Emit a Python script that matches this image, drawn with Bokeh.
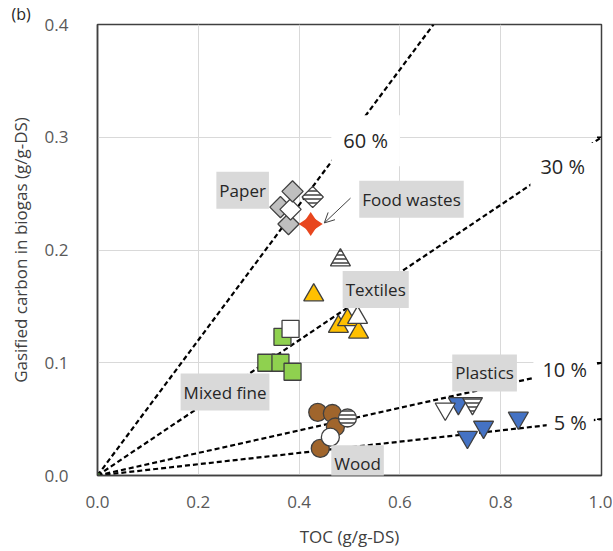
import math
from bokeh.plotting import figure
from bokeh.models import Label, Arrow, OpenHead, Range1d, FixedTicker, NumeralTickFormatter
from bokeh.embed import file_html
from bokeh.resources import INLINE

# ---------------- data ----------------
x_ticks = [0.0, 0.2, 0.4, 0.6, 0.8, 1.0]
y_ticks = [0.0, 0.1, 0.2, 0.3, 0.4]
panel_tag = "(b)"

# Paper (diamonds)
paper_x = [0.363, 0.379, 0.387]
paper_y = [0.238, 0.223, 0.252]
paper_open_x = [0.383]
paper_open_y = [0.236]
paper_hatch_x = [0.427]
paper_hatch_y = [0.247]

# Food wastes (star)
food_x = [0.423]
food_y = [0.223]

# Textiles (triangles)
textile_x = [0.429, 0.478, 0.496, 0.518]
textile_y = [0.160, 0.132, 0.138, 0.127]
textile_open_x = [0.516]
textile_open_y = [0.140]
textile_hatch_x = [0.482]
textile_hatch_y = [0.191]

# Mixed fine (squares)
mixed_x = [0.367, 0.335, 0.363, 0.387]
mixed_y = [0.123, 0.100, 0.100, 0.092]
mixed_open_x = [0.383]
mixed_open_y = [0.130]

# Wood (circles)
wood_x = [0.437, 0.466, 0.472, 0.442]
wood_y = [0.056, 0.055, 0.043, 0.024]
wood_open_x = [0.462]
wood_open_y = [0.034]
wood_hatch_x = [0.496]
wood_hatch_y = [0.051]

# Plastics (inverted triangles)
plastic_x = [0.716, 0.734, 0.766, 0.835]
plastic_y = [0.064, 0.034, 0.043, 0.051]
plastic_open_x = [0.690]
plastic_open_y = [0.059]
plastic_hatch_x = [0.744]
plastic_hatch_y = [0.064]

# Conversion ratio reference lines
ratios = [0.60, 0.30, 0.10, 0.05]
ratio_labels = ["60 %", "30 %", "10 %", "5 %"]
ratio_label_x = [0.532, 0.923, 0.927, 0.938]
ratio_label_y = [0.297, 0.274, 0.094, 0.047]
ratio_label_pad = [12, 10, 9, 7]

# Category labels
cat_names = ["Paper", "Food wastes", "Textiles", "Mixed fine", "Plastics", "Wood"]
cat_x = [0.288, 0.623, 0.552, 0.253, 0.768, 0.516]
cat_y = [0.253, 0.245, 0.165, 0.074, 0.091, 0.0105]

# Arrow for Food wastes label
food_arrow = [0.502, 0.246, 0.450, 0.224]

X_MAX = 1.0
Y_MAX = 0.4

# ---------------- figure ----------------
FONT = "Open Sans"
p = figure(width=612, height=550, output_backend="svg", toolbar_location=None,
           x_range=Range1d(0, X_MAX), y_range=Range1d(0, Y_MAX),
           title=panel_tag,
           min_border_left=97, min_border_right=11, min_border_top=17, min_border_bottom=74)
p.title.text_font = FONT
p.title.text_font_size = "16px"
p.title.text_font_style = "normal"
p.title.text_color = "#262626"
p.title.text_line_height = 1.0
p.title.align = "left"
p.title.offset = -86
p.title.standoff = 0
p.background_fill_color = "white"
p.border_fill_color = "white"
p.outline_line_color = "#404040"
p.outline_line_width = 1.5

for ax in (p.xaxis[0], p.yaxis[0]):
    ax.major_tick_line_color = None
    ax.minor_tick_line_color = None
    ax.axis_line_color = "#404040"
    ax.axis_line_width = 1.5
    ax.major_label_text_font = FONT
    ax.major_label_text_font_size = "17px"
    ax.major_label_text_color = "#595959"
    ax.formatter = NumeralTickFormatter(format="0.0")
    ax.axis_label_text_font = FONT
    ax.axis_label_text_font_size = "17px"
    ax.axis_label_text_font_style = "normal"
    ax.axis_label_text_color = "#404040"

p.xaxis[0].ticker = FixedTicker(ticks=x_ticks)
p.yaxis[0].ticker = FixedTicker(ticks=y_ticks)
p.xaxis[0].major_label_standoff = 14
p.yaxis[0].major_label_standoff = 23
p.xaxis[0].axis_label = "TOC (g/g-DS)"
p.yaxis[0].axis_label = "Gasified carbon in biogas (g/g-DS)"
p.xaxis[0].axis_label_standoff = 14
p.yaxis[0].axis_label_standoff = 10

p.xgrid.ticker = FixedTicker(ticks=x_ticks[1:-1])
p.ygrid.ticker = FixedTicker(ticks=y_ticks[1:-1])
p.grid.grid_line_color = "#d9d9d9"
p.grid.grid_line_width = 1

# reference lines
for r in ratios:
    xe = min(X_MAX, Y_MAX / r)
    p.line([0, xe], [0, r * xe], line_color="black", line_width=2.2, line_dash="5 3")
end_y = [r for r in ratios if r <= Y_MAX]
p.scatter([X_MAX] * len(end_y), end_y, marker="dash", size=9, line_color="black", line_width=1.5)
p.scatter([0], [0], marker="circle", size=7, fill_color="#3f6b2a", line_color="black", line_width=1)

OUT = "#404040"
LW = 1.3

# Mixed fine squares
p.scatter(mixed_x, mixed_y, marker="square", size=17, fill_color="#8fd14f", line_color=OUT, line_width=LW)
p.scatter(mixed_open_x, mixed_open_y, marker="square", size=17, fill_color="white", line_color=OUT, line_width=LW)

# Paper diamonds (rotated squares)
p.scatter(paper_x[:2], paper_y[:2], marker="square", angle=math.pi / 4, size=15,
          fill_color="#bfbfbf", line_color=OUT, line_width=LW)
p.scatter(paper_open_x, paper_open_y, marker="square", angle=math.pi / 4, size=15,
          fill_color="white", line_color=OUT, line_width=LW)
p.scatter(paper_x[2:], paper_y[2:], marker="square", angle=math.pi / 4, size=15,
          fill_color="#bfbfbf", line_color=OUT, line_width=LW)
p.scatter(paper_hatch_x, paper_hatch_y, marker="square", angle=math.pi / 4, size=15,
          fill_color="white", line_color=OUT, line_width=LW,
          hatch_pattern="horizontal_line", hatch_color="#404040", hatch_scale=4, hatch_weight=1.5)

# Food waste star
p.scatter(food_x, food_y, marker="diamond", size=24, fill_color="#e8461e", line_color=None)
p.scatter(food_x, food_y, marker="diamond", angle=math.pi / 2, size=24, fill_color="#e8461e", line_color=None)

# Textiles triangles
p.scatter(textile_hatch_x, textile_hatch_y, marker="triangle", size=20, fill_color="white",
          line_color=OUT, line_width=LW,
          hatch_pattern="horizontal_line", hatch_color="#404040", hatch_scale=4, hatch_weight=1.5)
p.scatter(textile_x, textile_y, marker="triangle", size=20, fill_color="#ffc000", line_color=OUT, line_width=LW)
p.scatter(textile_open_x, textile_open_y, marker="triangle", size=20, fill_color="white", line_color=OUT, line_width=LW)

# Wood circles
p.scatter(wood_x, wood_y, marker="circle", size=18, fill_color="#a0652c", line_color=OUT, line_width=LW)
p.scatter(wood_open_x, wood_open_y, marker="circle", size=18, fill_color="white", line_color=OUT, line_width=LW)
p.scatter(wood_hatch_x, wood_hatch_y, marker="circle", size=18, fill_color="white", line_color=OUT, line_width=LW,
          hatch_pattern="horizontal_line", hatch_color="#404040", hatch_scale=4, hatch_weight=1.5)

# Plastics inverted triangles
p.scatter(plastic_x, plastic_y, marker="inverted_triangle", size=20, fill_color="#4472c4", line_color=OUT, line_width=LW)
p.scatter(plastic_open_x, plastic_open_y, marker="inverted_triangle", size=20, fill_color="white", line_color=OUT, line_width=LW)
p.scatter(plastic_hatch_x, plastic_hatch_y, marker="inverted_triangle", size=20, fill_color="white",
          line_color=OUT, line_width=LW,
          hatch_pattern="horizontal_line", hatch_color="#404040", hatch_scale=4, hatch_weight=1.5)

# ratio labels with white boxes
for t, lx, ly, pad in zip(ratio_labels, ratio_label_x, ratio_label_y, ratio_label_pad):
    p.add_layout(Label(x=lx, y=ly, text=t, text_font=FONT, text_font_size="20px",
                       text_color="#262626", text_align="center", text_baseline="middle",
                       background_fill_color="white", padding=pad))

# category labels with gray boxes
for t, lx, ly in zip(cat_names, cat_x, cat_y):
    p.add_layout(Label(x=lx, y=ly, text=t, text_font=FONT, text_font_size="17px",
                       text_color="#262626", text_align="center", text_baseline="middle",
                       background_fill_color="#d9d9d9", padding=(3, 7)))

p.add_layout(Arrow(x_start=food_arrow[0], y_start=food_arrow[1], x_end=food_arrow[2], y_end=food_arrow[3],
                   line_color="#404040", line_width=1,
                   end=OpenHead(size=10, line_color="#404040", line_width=1)))

open("out.html", "w").write(file_html(p, INLINE))
